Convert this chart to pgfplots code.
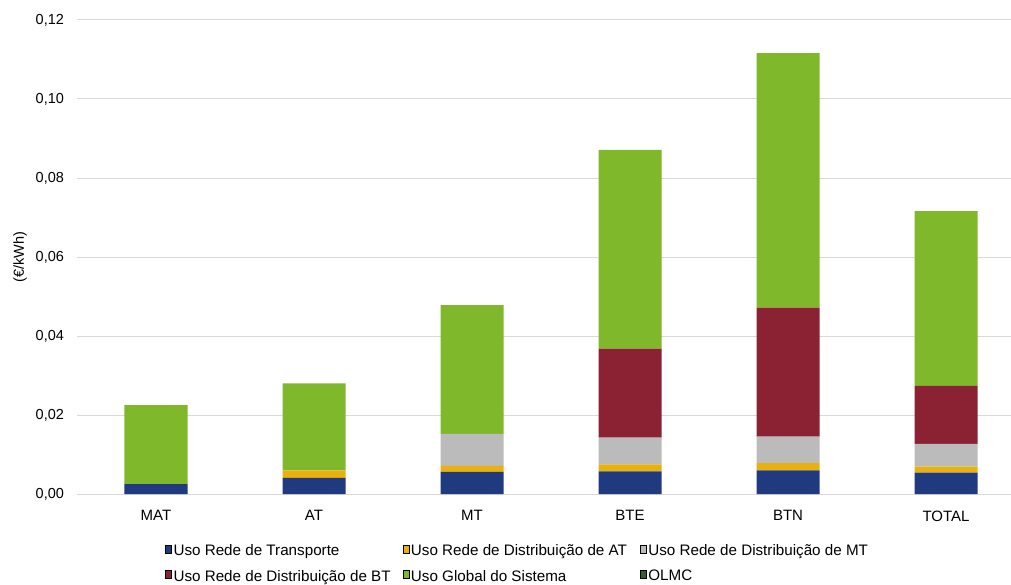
\documentclass[border=0pt]{standalone}
\usepackage{fontspec}
\setmainfont{Liberation Sans}
\usepackage{pgfplots}
\pgfplotsset{compat=1.18}

\definecolor{cTransp}{RGB}{31,58,127}
\definecolor{cDistAT}{RGB}{232,177,14}
\definecolor{cDistMT}{RGB}{187,187,187}
\definecolor{cDistBT}{RGB}{139,34,52}
\definecolor{cUGS}{RGB}{127,184,42}
\definecolor{cOLMC}{RGB}{46,100,40}
\definecolor{cGrid}{RGB}{217,217,217}

\begin{document}
\begin{tikzpicture}[font=\fontsize{14.5}{17}\selectfont]
% page frame: the plot area sits at the origin
\path[use as bounding box] (-77pt,-90pt) rectangle (934pt,494pt);
\begin{axis}[
  at={(0pt,0pt)}, anchor=south west,
  scale only axis,
  width=948pt, height=474pt,
  ybar stacked, bar width=63pt,
  xmin=-0.5, xmax=5.5, ymin=0, ymax=0.12,
  xtick={0,1,2,3,4,5},
  xticklabels={MAT,AT,MT,BTE,BTN,TOTAL},
  ytick={0,0.02,0.04,0.06,0.08,0.10,0.12},
  yticklabel style={xshift=-9.5pt, /pgf/number format/.cd, fixed, fixed zerofill, precision=2, use comma, assume math mode=true},
  xticklabel style={yshift=-13pt, font=\fontsize{15}{17}\selectfont},
  scaled y ticks=false,
  axis line style={draw=none},
  tick style={draw=none},
  major tick length=0pt,
  ymajorgrids,
  grid style={draw=cGrid, line width=1pt},
  ylabel={(€/kWh)},
  every axis y label/.style={at={(axis description cs:-0.0601,0.5)}, rotate=90, anchor=center},
  ybar legend/.style={legend image code/.code={\fill[##1,draw=none] (0pt,-4pt) rectangle (8.5pt,4pt);}},
  legend columns=3,
  legend cell align=left,
  legend style={at={(axis description cs:0.0928,-0.102)}, anchor=north west,
    draw=none, fill=none, inner sep=0pt, row sep=9pt,
    font=\fontsize{15.2}{17}\selectfont,
    /tikz/every odd column/.append style={column sep=0pt}},
]
\addplot[fill=cTransp, draw=none] coordinates {(0,0.0025) (1,0.0041) (2,0.0056) (3,0.0057) (4,0.0060) (5,0.0054)};
\addlegendentry{\makebox[227pt][l]{Uso Rede de Transporte}}
\addplot[fill=cDistAT, draw=none] coordinates {(0,0) (1,0.0019) (2,0.0015) (3,0.0018) (4,0.0018) (5,0.0015)};
\addlegendentry{\makebox[227pt][l]{Uso Rede de Distribuição de AT}}
\addplot[fill=cDistMT, draw=none] coordinates {(0,0) (1,0) (2,0.0081) (3,0.0068) (4,0.0067) (5,0.0058)};
\addlegendentry{Uso Rede de Distribuição de MT}
\addplot[fill=cDistBT, draw=none] coordinates {(0,0) (1,0) (2,0) (3,0.0225) (4,0.0327) (5,0.0147)};
\addlegendentry{\makebox[227pt][l]{Uso Rede de Distribuição de BT}}
\addplot[fill=cUGS, draw=none] coordinates {(0,0.0200) (1,0.0220) (2,0.0326) (3,0.0503) (4,0.0644) (5,0.0442)};
\addlegendentry{\makebox[227pt][l]{Uso Global do Sistema}}
\addplot[fill=cOLMC, draw=none] coordinates {(0,0) (1,0) (2,0) (3,0) (4,0) (5,0)};
\addlegendentry{OLMC}
\end{axis}
\end{tikzpicture}
\end{document}
